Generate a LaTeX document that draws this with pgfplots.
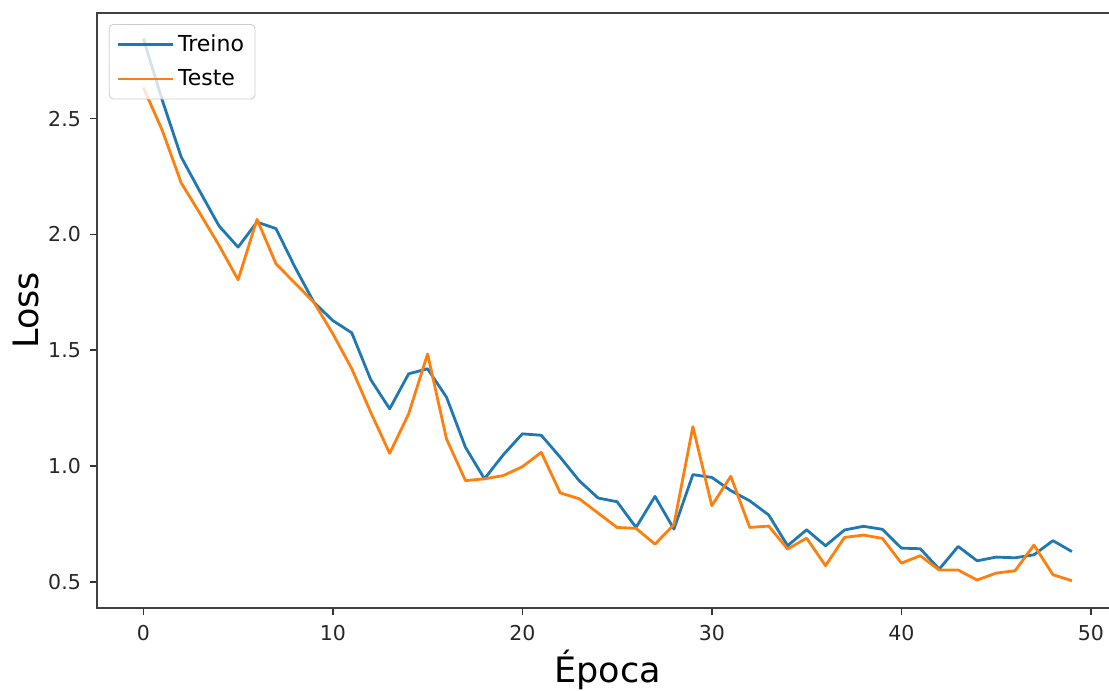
\documentclass[border=0pt]{standalone}
\usepackage{fontspec}
\setmainfont{DejaVu Sans}
\usepackage{pgfplots}
\pgfplotsset{compat=1.18}
\definecolor{tabblue}{HTML}{1F77B4}
\definecolor{taborange}{HTML}{FF7F0E}
\begin{document}
\begin{tikzpicture}
\begin{axis}[
  scale only axis,
  width=510.7pt, height=297.8pt,
  xmin=-2.45, xmax=51.45, ymin=0.386, ymax=2.957,
  xtick={0,10,20,30,40,50},
  ytick={0.5,1.0,1.5,2.0,2.5},
  xtick pos=bottom, ytick pos=left,
  tick align=outside,
  major tick length=3.5pt,
  tick style={black!80, line width=0.8pt},
  axis line style={black!75, line width=0.9pt},
  /pgf/number format/assume math mode=true,
  ticklabel style={font=\fontsize{10.25}{12}\selectfont, text=black!85},
  xticklabel style={yshift=-1.5pt},
  yticklabel style={xshift=-1pt, /pgf/number format/.cd, fixed, fixed zerofill, precision=1},
  xlabel={Época}, ylabel={Loss},
  label style={font=\fontsize{17.5}{20}\selectfont},
  xlabel style={at={(rel axis cs:0.5,0)}, anchor=center, yshift=-30.9pt},
  ylabel style={at={(rel axis cs:0,0.5)}, anchor=center, yshift=35.5pt},
  legend style={at={(rel axis cs:0.0118,0.981)}, anchor=north west,
    draw=black!20, fill=white, fill opacity=0.8, text opacity=1,
    rounded corners=2pt, font=\fontsize{11}{13}\selectfont,
    inner xsep=3.5pt, inner ysep=3.2pt, row sep=3.5pt},
  legend cell align=left,
  legend image code/.code={\draw[#1] (0pt,0pt) -- (23pt,0pt); \path (0pt,0pt) -- (27.5pt,0pt);},
  every axis plot/.append style={line width=1.4pt, line join=round},
]
\addplot[tabblue] coordinates {
(0,2.846) (1,2.579) (2,2.334) (3,2.183) (4,2.036) (5,1.945) (6,2.053) (7,2.025) (8,1.859) (9,1.707)
(10,1.628) (11,1.575) (12,1.373) (13,1.247) (14,1.398) (15,1.420) (16,1.297) (17,1.081) (18,0.945) (19,1.049)
(20,1.139) (21,1.133) (22,1.038) (23,0.937) (24,0.862) (25,0.846) (26,0.735) (27,0.869) (28,0.728) (29,0.963)
(30,0.951) (31,0.894) (32,0.850) (33,0.789) (34,0.656) (35,0.725) (36,0.656) (37,0.724) (38,0.740) (39,0.727)
(40,0.646) (41,0.643) (42,0.555) (43,0.653) (44,0.591) (45,0.607) (46,0.604) (47,0.617) (48,0.678) (49,0.631)
};
\addlegendentry{Treino}
\addplot[taborange] coordinates {
(0,2.634) (1,2.449) (2,2.222) (3,2.089) (4,1.952) (5,1.804) (6,2.065) (7,1.873) (8,1.790) (9,1.707)
(10,1.571) (11,1.420) (12,1.232) (13,1.055) (14,1.225) (15,1.484) (16,1.117) (17,0.937) (18,0.945) (19,0.959)
(20,0.997) (21,1.059) (22,0.884) (23,0.859) (24,0.797) (25,0.735) (26,0.731) (27,0.663) (28,0.747) (29,1.170)
(30,0.829) (31,0.956) (32,0.735) (33,0.741) (34,0.642) (35,0.689) (36,0.570) (37,0.692) (38,0.702) (39,0.688)
(40,0.581) (41,0.613) (42,0.551) (43,0.551) (44,0.508) (45,0.538) (46,0.548) (47,0.659) (48,0.531) (49,0.505)
};
\addlegendentry{Teste}
\end{axis}
\pgfresetboundingbox
\path[use as bounding box] (-48.45pt,-41.35pt) rectangle (506.05pt,304.15pt);
\end{tikzpicture}
\end{document}
